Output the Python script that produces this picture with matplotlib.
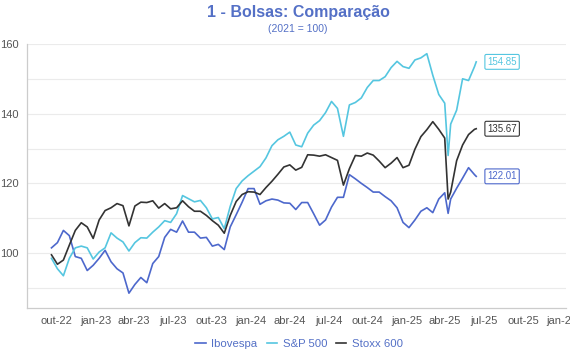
import numpy as np
import pandas as pd
import matplotlib
matplotlib.use("Agg")
import matplotlib.pyplot as plt

plt.rcParams['font.family'] = ['Liberation Sans', 'DejaVu Sans']

#---data (2021 = 100)--------------------------------------------------------
dates = pd.DatetimeIndex(
    list(pd.date_range('2022-09-19', '2025-03-31', freq='14D'))
    + [pd.Timestamp('2025-04-08')]
    + list(pd.date_range('2025-04-14', '2025-06-09', freq='14D'))
    + [pd.Timestamp('2025-06-13')]
)

ibovespa = [
    101.5, 103, 106.5, 105, 99, 98.5, 95, 96.5, 98.5, 100.8,
    97.5, 95.5, 94.3, 88.5, 91, 93, 91.5, 97, 99, 104.5,
    106.8, 106, 109.2, 106, 106, 104.3, 104.5, 102, 102.5, 101,
    107.5, 111, 114.6, 118.5, 118.5, 114, 115, 115.5, 115.2, 114.4,
    114.3, 112.5, 114.5, 114.5, 111.3, 108, 109.5, 113.2, 116, 116,
    122.5, 121.3, 120, 118.8, 117.5, 117.5, 116.2, 115, 113, 108.8,
    107.3, 109.5, 112, 113, 111.6, 115.5, 117.3,
    111.4,
    115.5, 118.6, 121.5, 124.5, 122.5,
    122.01,
]

sp500 = [
    98.5, 95.5, 93.5, 98.5, 101.5, 102, 101.5, 98.3, 100.3, 101.5,
    105.8, 104.3, 103.2, 100.6, 103, 104.4, 104.3, 106, 107.5, 109.3,
    108.8, 111.3, 116.5, 115.6, 114.7, 115.1, 113, 109.8, 110.2, 107,
    113.4, 118.5, 120.7, 122.2, 123.5, 124.8, 127.3, 130.8, 132.5, 133.5,
    134.7, 131, 130.5, 134.4, 136.7, 138, 140.3, 143.5, 141.5, 133.5,
    142.5, 143.2, 144.5, 147.5, 149.5, 149.5, 150.6, 153.2, 155, 153.5,
    153, 155.4, 156, 157.2, 151, 145.5, 143,
    128,
    137, 141, 150, 149.5, 153.5,
    154.85,
]

stoxx600 = [
    99.5, 96.8, 98, 102.3, 106.5, 108.7, 107.5, 104.2, 109.5, 112.2,
    113, 114.2, 113.6, 107.8, 113.5, 114.6, 114.5, 115, 112.9, 114.2,
    112.7, 113, 115, 113.3, 112, 112, 110.8, 109.3, 108, 105.7,
    110.8, 114.8, 116.8, 117.6, 117.5, 116.8, 118.8, 120.6, 122.6, 124.7,
    125.3, 123.8, 124.6, 128.2, 128.1, 127.8, 128.2, 127.4, 126.6, 119.5,
    124.2, 128, 127.8, 128.7, 128.1, 126.4, 124.5, 125.8, 127.4, 124.5,
    125.2, 129.8, 133.4, 135.4, 137.7, 135.5, 133,
    115.5,
    117.5, 126.5, 131, 134, 135.5,
    135.67,
]

series_names = ['Ibovespa', 'S&P 500', 'Stoxx 600']
series_colors = ['#4d68cc', '#55c6e0', '#333333']

xtick_dates = pd.date_range('2022-10-01', '2026-01-01', freq='QS')
xtick_labels = ['out-22', 'jan-23', 'abr-23', 'jul-23', 'out-23', 'jan-24', 'abr-24',
                'jul-24', 'out-24', 'jan-25', 'abr-25', 'jul-25', 'out-25', 'jan-26']

title_color = '#5470c6'

#---figure---------------------------------------------------------------------
fig = plt.figure(figsize=(5.7, 3.6), dpi=100)
ax = fig.add_axes([0.047, 0.144, 0.946, 0.734])

for name, vals, col in zip(series_names, [ibovespa, sp500, stoxx600], series_colors):
    ax.plot(dates, vals, color=col, lw=1.2, label=name, zorder=3)
    # end-of-line value tag
    ax.annotate(f'{vals[-1]:.2f}', xy=(dates[-1], vals[-1]), xytext=(8, 0),
                textcoords='offset points', ha='left', va='center',
                fontsize=7, color=col,
                bbox=dict(boxstyle='round,pad=0.25,rounding_size=0.15',
                          fc='white', ec=col, lw=0.8))

ax.set_xlim(pd.Timestamp('2022-07-23'), pd.Timestamp('2026-01-10'))
ax.set_ylim(84.2, 160)

ax.set_xticks(xtick_dates)
ax.set_xticklabels(xtick_labels)
ax.set_yticks([100, 120, 140, 160])
ax.set_yticks([90, 110, 130, 150], minor=True)
ax.tick_params(axis='both', which='both', length=0, labelsize=8, colors='#555555')
ax.tick_params(axis='x', pad=6)
ax.tick_params(axis='y', pad=6)

ax.grid(axis='y', which='both', color='#ebebeb', lw=0.8, zorder=0)
for s in ['top', 'right']:
    ax.spines[s].set_visible(False)
for s in ['left', 'bottom']:
    ax.spines[s].set_color('#cccccc')
    ax.spines[s].set_linewidth(0.9)

fig.text(0.523, 0.965, '1 - Bolsas: Comparação', ha='center', va='center',
         fontsize=11.5, fontweight='bold', color=title_color)
fig.text(0.523, 0.92, '(2021 = 100)', ha='center', va='center',
         fontsize=7.5, color=title_color)

leg = fig.legend(loc='center', bbox_to_anchor=(0.525, 0.045), ncol=3, frameon=False,
                 fontsize=8.2, handlelength=0.9, handletextpad=0.5, columnspacing=0.8)
for t in leg.get_texts():
    t.set_color(title_color)

fig.savefig('out.png', dpi=100)
